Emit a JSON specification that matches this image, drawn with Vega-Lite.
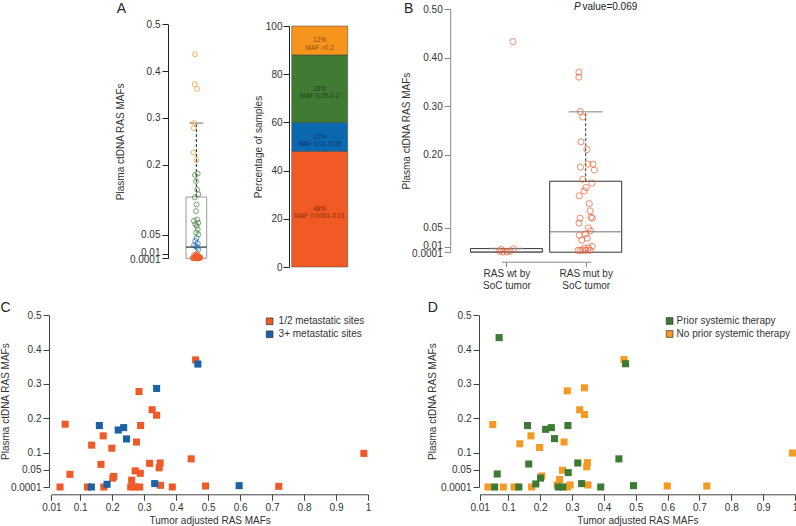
{
"$schema": "https://vega.github.io/schema/vega-lite/v6.json",
"padding": {"left": 0, "top": 2, "right": 0, "bottom": 0},
"columns": 4,
"align": "each",
"bounds": "flush",
"spacing": {"row": 48, "column": 10},
"resolve": {"scale": {"x": "independent", "y": "independent", "color": "independent", "fill": "independent"}, "legend": {"color": "independent", "fill": "independent"}},
"config": {
  "font": "Liberation Sans",
  "view": {"stroke": null},
  "axis": {"labelFont": "Liberation Sans", "labelFontSize": 10, "labelColor": "#333", "titleFont": "Liberation Sans", "titleFontSize": 10, "titleFontWeight": "normal", "titleColor": "#333", "tickSize": 6, "tickColor": "#444", "domainColor": "#444", "grid": false, "labelPadding": 2, "labelFlush": false, "labelOverlap": false, "tickCount": 30},
  "legend": {"labelFont": "Liberation Sans", "labelFontSize": 10, "labelColor": "#333"},
  "title": {"font": "Liberation Sans", "fontSize": 14, "fontWeight": "normal", "color": "#222"},
  "text": {"font": "Liberation Sans"}
},
"concat": [
  {"width": 108.7, "height": 10, "data": {"values": [{"k": 1}]}, "mark": {"type": "point", "opacity": 0}, "encoding": {}},
  {
    "width": 110.3, "height": 250,
    "title": {"text": "A", "anchor": "start", "frame": "group", "offset": 0, "dx": -46.7, "dy": 14, "align": "center", "baseline": "middle"},
    "layer": [
      {"data": {"values": [{"q1": 0.0001, "med": 0.024, "q3": 0.131, "whi": 0.289}]},
       "mark": {"type": "bar", "orient": "vertical", "width": 20.7, "fillOpacity": 0, "stroke": "#999", "strokeWidth": 1},
       "encoding": {
         "x": {"datum": 0.5, "type": "quantitative", "scale": {"domain": [0, 1], "range": [18, 38.7], "nice": false, "zero": false}, "axis": null},
         "y": {"field": "q1", "type": "quantitative", "scale": {"domain": [0.0001, 0.5], "range": [249.3, 15.3], "nice": false, "zero": false},
               "axis": {"values": [0.0001, 0.01, 0.05, 0.2, 0.3, 0.4, 0.5], "tickCount": 30, "format": "~g", "labelOverlap": false, "title": "Plasma ctDNA RAS MAFs", "titleX": -47.3, "titleBaseline": "middle", "domainColor": "#222", "tickColor": "#222",
                        "labelOffset": {"condition": [{"test": "datum.value == 0.01", "value": -1.5}, {"test": "datum.value == 0.0001", "value": 1.5}], "value": 0}}},
         "y2": {"field": "q3"}}},
      {"data": {"values": [{"q1": 0.0001, "med": 0.024, "q3": 0.131, "whi": 0.289}]},
       "mark": {"type": "rule", "strokeDash": [3, 2], "color": "#222", "strokeWidth": 1},
       "encoding": {"x": {"datum": 0.5, "type": "quantitative"}, "y": {"field": "q3", "type": "quantitative"}, "y2": {"field": "whi"}}},
      {"data": {"values": [{"q1": 0.0001, "med": 0.024, "q3": 0.131, "whi": 0.289}]},
       "mark": {"type": "tick", "orient": "horizontal", "size": 14, "thickness": 1, "color": "#333"},
       "encoding": {"x": {"datum": 0.5, "type": "quantitative"}, "y": {"field": "whi", "type": "quantitative"}}},
      {"data": {"values": [{"q1": 0.0001, "med": 0.024, "q3": 0.131, "whi": 0.289}]},
       "mark": {"type": "tick", "orient": "horizontal", "size": 20.7, "thickness": 1.5, "color": "#111"},
       "encoding": {"x": {"datum": 0.5, "type": "quantitative"}, "y": {"field": "med", "type": "quantitative"}}},
      {"data": {"values": [
        {"v": 0.436, "j": 0.37, "g": "o"}, {"v": 0.372, "j": 0.35, "g": "o"}, {"v": 0.362, "j": 0.57, "g": "o"}, {"v": 0.289, "j": 0.29, "g": "o"}, {"v": 0.278, "j": 0.26, "g": "o"}, {"v": 0.226, "j": 0.24, "g": "o"}, {"v": 0.21, "j": 0.5, "g": "o"},
        {"v": 0.178, "j": 0.37, "g": "gr"}, {"v": 0.181, "j": 0.63, "g": "gr"}, {"v": 0.165, "j": 0.47, "g": "gr"}, {"v": 0.147, "j": 0.58, "g": "gr"}, {"v": 0.137, "j": 0.68, "g": "gr"}, {"v": 0.13, "j": 0.35, "g": "gr"}, {"v": 0.115, "j": 0.52, "g": "gr"}, {"v": 0.101, "j": 0.47, "g": "gr"}, {"v": 0.083, "j": 0.58, "g": "gr"}, {"v": 0.076, "j": 0.68, "g": "gr"}, {"v": 0.073, "j": 0.39, "g": "gr"}, {"v": 0.069, "j": 0.53, "g": "gr"}, {"v": 0.062, "j": 0.63, "g": "gr"}, {"v": 0.055, "j": 0.47, "g": "gr"}, {"v": 0.08, "j": 0.27, "g": "gr"}, {"v": 0.051, "j": 0.68, "g": "gr"},
        {"v": 0.043, "j": 0.52, "g": "b"}, {"v": 0.037, "j": 0.4, "g": "b"}, {"v": 0.032, "j": 0.63, "g": "b"}, {"v": 0.028, "j": 0.27, "g": "b"}, {"v": 0.023, "j": 0.56, "g": "b"}, {"v": 0.019, "j": 0.68, "g": "b"}, {"v": 0.026, "j": 0.47, "g": "b"},
        {"v": 0.0001, "j": 0.2, "g": "r"}, {"v": 0.0005, "j": 0.3, "g": "r"}, {"v": 0.001, "j": 0.4, "g": "r"}, {"v": 0.002, "j": 0.5, "g": "r"}, {"v": 0.0001, "j": 0.6, "g": "r"}, {"v": 0.003, "j": 0.7, "g": "r"}, {"v": 0.001, "j": 0.8, "g": "r"},
        {"v": 0.0005, "j": 0.25, "g": "r"}, {"v": 0.004, "j": 0.35, "g": "r"}, {"v": 0.002, "j": 0.45, "g": "r"}, {"v": 0.006, "j": 0.55, "g": "r"}, {"v": 0.001, "j": 0.65, "g": "r"}, {"v": 0.0001, "j": 0.75, "g": "r"}, {"v": 0.003, "j": 0.85, "g": "r"},
        {"v": 0.007, "j": 0.3, "g": "r"}, {"v": 0.005, "j": 0.4, "g": "r"}, {"v": 0.0001, "j": 0.5, "g": "r"}, {"v": 0.008, "j": 0.6, "g": "r"}, {"v": 0.002, "j": 0.7, "g": "r"}, {"v": 0.001, "j": 0.15, "g": "r"}, {"v": 0.004, "j": 0.62, "g": "r"},
        {"v": 0.0001, "j": 0.38, "g": "r"}, {"v": 0.006, "j": 0.48, "g": "r"}, {"v": 0.003, "j": 0.58, "g": "r"}, {"v": 0.0005, "j": 0.68, "g": "r"}, {"v": 0.002, "j": 0.78, "g": "r"}, {"v": 0.009, "j": 0.52, "g": "r"}, {"v": 0.001, "j": 0.88, "g": "r"}
       ]},
       "mark": {"type": "point", "shape": "circle", "filled": false, "size": 24, "strokeWidth": 1},
       "encoding": {"x": {"field": "j", "type": "quantitative"}, "y": {"field": "v", "type": "quantitative"},
         "color": {"field": "g", "type": "nominal", "scale": {"domain": ["r", "b", "gr", "o"], "range": ["#EF5B2B", "#1466AC", "#3E7B35", "#F6931F"]}, "legend": null}}}
    ]
  },
  {
    "width": 180, "height": 258,
    "data": {"values": [
      {"seg": "r", "pct": 48, "o": 1, "lbl": "48%\nMAF 0.0001-0.01"},
      {"seg": "b", "pct": 12, "o": 2, "lbl": "12%\nMAF 0.01-0.05"},
      {"seg": "g", "pct": 28, "o": 3, "lbl": "28%\nMAF 0.05-0.2"},
      {"seg": "o", "pct": 12, "o": 4, "lbl": "12%\nMAF >0.2"}
    ]},
    "transform": [{"stack": "pct", "groupby": [], "sort": [{"field": "o", "order": "ascending"}], "as": ["lo", "hi"]}],
    "layer": [
      {"mark": {"type": "rect", "stroke": "#444", "strokeWidth": 0.5},
       "encoding": {
         "x": {"datum": 0, "type": "quantitative", "scale": {"domain": [0, 1], "range": [2.7, 58.7], "nice": false, "zero": false}, "axis": null},
         "x2": {"datum": 1},
         "y": {"field": "lo", "type": "quantitative", "scale": {"domain": [0, 100], "range": [258, 17], "nice": false, "zero": false},
               "axis": {"values": [0, 20, 40, 60, 80, 100], "tickCount": 30, "labelOverlap": false, "title": "Percentage of samples", "titleX": -30.8, "titleBaseline": "middle", "labelPadding": 1, "domainColor": "#222", "tickColor": "#222"}},
         "y2": {"field": "hi"},
         "fill": {"field": "seg", "type": "nominal", "scale": {"domain": ["r", "b", "g", "o"], "range": ["#F15A24", "#0B69B0", "#3F7B33", "#F7941D"]}, "legend": null}}},
      {"transform": [{"fold": ["lo", "hi"], "as": ["k", "val"]}],
       "mark": {"type": "text", "fontSize": 6.5, "lineBreak": "\n", "lineHeight": 7.3, "align": "center", "baseline": "middle"},
       "encoding": {
         "x": {"datum": 0.5, "type": "quantitative"},
         "y": {"aggregate": "mean", "field": "val", "type": "quantitative"},
         "text": {"field": "lbl"},
         "color": {"field": "seg", "type": "nominal", "scale": {"domain": ["r", "b", "g", "o"], "range": ["#8B2A0E", "#0A3566", "#1F4219", "#8A4D0B"]}, "legend": null}}}
    ]
  },
  {
    "width": 200, "height": 252.7,
    "title": {"text": "B", "anchor": "start", "frame": "group", "offset": 0, "dx": -70.3, "dy": 21.4, "align": "center", "baseline": "middle"},
    "layer": [
      {"data": {"values": [{"grp": 1, "q1": 0.0001, "med": 0.0008, "q3": 0.0075, "whi": 0.0075}, {"grp": 2, "q1": 0.0001, "med": 0.042, "q3": 0.146, "whi": 0.289}]},
       "mark": {"type": "bar", "orient": "vertical", "width": 72, "fillOpacity": 0, "stroke": "#333", "strokeWidth": 1},
       "encoding": {
         "x": {"field": "grp", "type": "quantitative", "scale": {"domain": [1, 2], "range": [22.4, 111.7], "nice": false, "zero": false},
               "axis": {"values": [1, 2], "tickCount": 30, "title": null, "tickSize": 5, "domainColor": "#888", "tickColor": "#888", "labelPadding": 2, "labelLineHeight": 12, "labelOverlap": false,
                        "labelExpr": "datum.value == 1 ? ['RAS wt by', 'SoC tumor'] : ['RAS mut by', 'SoC tumor']"}},
         "y": {"field": "q1", "type": "quantitative", "scale": {"domain": [0.0001, 0.5], "range": [243.2, 0], "nice": false, "zero": false},
               "axis": {"values": [0.0001, 0.01, 0.05, 0.2, 0.3, 0.4, 0.5], "tickCount": 30, "offset": 28.8, "labelOverlap": false, "title": "Plasma ctDNA RAS MAFs", "titleX": -43.5, "titleBaseline": "middle", "domainColor": "#888", "tickColor": "#888",
                        "labelExpr": "datum.value >= 0.2 ? format(datum.value, '.2f') : format(datum.value, '~g')",
                        "labelOffset": {"condition": [{"test": "datum.value == 0.01", "value": -1.5}, {"test": "datum.value == 0.0001", "value": 1.5}], "value": 0}}},
         "y2": {"field": "q3"}}},
      {"data": {"values": [{"grp": 2, "q3": 0.146, "whi": 0.289}]},
       "mark": {"type": "rule", "strokeDash": [3, 2], "color": "#333", "strokeWidth": 1},
       "encoding": {"x": {"field": "grp", "type": "quantitative"}, "y": {"field": "q3", "type": "quantitative"}, "y2": {"field": "whi"}}},
      {"data": {"values": [{"grp": 1, "whi": 0.0075}, {"grp": 2, "whi": 0.289}]},
       "mark": {"type": "tick", "orient": "horizontal", "size": 34, "thickness": 1.5, "color": "#888"},
       "encoding": {"x": {"field": "grp", "type": "quantitative"}, "y": {"field": "whi", "type": "quantitative"}}},
      {"data": {"values": [{"grp": 1, "med": 0.0008}, {"grp": 2, "med": 0.042}]},
       "mark": {"type": "tick", "orient": "horizontal", "size": 72, "thickness": 1.5, "color": "#777"},
       "encoding": {"x": {"field": "grp", "type": "quantitative"}, "y": {"field": "med", "type": "quantitative"}}},
      {"data": {"values": [
        {"x": 1.082, "v": 0.433}, {"x": 0.914, "v": 0.002}, {"x": 0.933, "v": 0.006}, {"x": 0.958, "v": 0.0005}, {"x": 1.008, "v": 0.0005}, {"x": 1.045, "v": 0.002}, {"x": 1.09, "v": 0.007},
        {"x": 1.914, "v": 0.37}, {"x": 1.914, "v": 0.36}, {"x": 1.932, "v": 0.289}, {"x": 1.963, "v": 0.278}, {"x": 1.94, "v": 0.227}, {"x": 2.015, "v": 0.211}, {"x": 2.03, "v": 0.181},
        {"x": 2.09, "v": 0.181}, {"x": 1.933, "v": 0.175}, {"x": 2.109, "v": 0.169}, {"x": 1.963, "v": 0.15}, {"x": 2.079, "v": 0.142}, {"x": 2.004, "v": 0.133}, {"x": 1.981, "v": 0.126},
        {"x": 1.918, "v": 0.116}, {"x": 2.045, "v": 0.1}, {"x": 2.056, "v": 0.085}, {"x": 2.067, "v": 0.072}, {"x": 2.082, "v": 0.07}, {"x": 1.929, "v": 0.07}, {"x": 1.916, "v": 0.06},
        {"x": 2.034, "v": 0.05}, {"x": 2.06, "v": 0.044}, {"x": 1.918, "v": 0.035}, {"x": 2.019, "v": 0.029}, {"x": 1.951, "v": 0.025}, {"x": 1.996, "v": 0.037}, {"x": 2.082, "v": 0.012},
        {"x": 1.904, "v": 0.004}, {"x": 1.93, "v": 0.004}, {"x": 1.96, "v": 0.004}, {"x": 2.005, "v": 0.004}, {"x": 2.034, "v": 0.009}, {"x": 2.056, "v": 0.004}, {"x": 1.985, "v": 0.008}
       ]},
       "mark": {"type": "point", "shape": "circle", "filled": false, "size": 38, "strokeWidth": 1, "color": "#EF5B2B"},
       "encoding": {"x": {"field": "x", "type": "quantitative"}, "y": {"field": "v", "type": "quantitative"}}},
      {"data": {"values": [{"t": "P"}]},
       "mark": {"type": "text", "fontSize": 10, "fontStyle": "italic", "align": "left", "baseline": "middle", "color": "#222"},
       "encoding": {"x": {"datum": 1.854, "type": "quantitative"}, "y": {"datum": 0.504, "type": "quantitative"}, "text": {"field": "t"}}},
      {"data": {"values": [{"t": "value=0.069"}]},
       "mark": {"type": "text", "fontSize": 10, "align": "left", "baseline": "middle", "color": "#222"},
       "encoding": {"x": {"datum": 1.96, "type": "quantitative"}, "y": {"datum": 0.504, "type": "quantitative"}, "text": {"field": "t"}}}
    ]
  },
  {
    "width": 108.7, "height": 179.3,
    "layer": [
      {"data": {"values": [
        {"tx": 0.461, "py": 0.37, "site": "1/2 metastatic sites"}, {"tx": 0.284, "py": 0.278, "site": "1/2 metastatic sites"}, {"tx": 0.325, "py": 0.225, "site": "1/2 metastatic sites"}, {"tx": 0.339, "py": 0.209, "site": "1/2 metastatic sites"},
        {"tx": 0.053, "py": 0.183, "site": "1/2 metastatic sites"}, {"tx": 0.289, "py": 0.179, "site": "1/2 metastatic sites"}, {"tx": 0.172, "py": 0.149, "site": "1/2 metastatic sites"}, {"tx": 0.136, "py": 0.122, "site": "1/2 metastatic sites"},
        {"tx": 0.276, "py": 0.131, "site": "1/2 metastatic sites"}, {"tx": 0.199, "py": 0.113, "site": "1/2 metastatic sites"}, {"tx": 0.987, "py": 0.098, "site": "1/2 metastatic sites"}, {"tx": 0.447, "py": 0.082, "site": "1/2 metastatic sites"},
        {"tx": 0.165, "py": 0.066, "site": "1/2 metastatic sites"}, {"tx": 0.317, "py": 0.069, "site": "1/2 metastatic sites"}, {"tx": 0.35, "py": 0.07, "site": "1/2 metastatic sites"}, {"tx": 0.347, "py": 0.056, "site": "1/2 metastatic sites"},
        {"tx": 0.068, "py": 0.037, "site": "1/2 metastatic sites"}, {"tx": 0.272, "py": 0.047, "site": "1/2 metastatic sites"}, {"tx": 0.288, "py": 0.04, "site": "1/2 metastatic sites"}, {"tx": 0.205, "py": 0.031, "site": "1/2 metastatic sites"},
        {"tx": 0.202, "py": 0.026, "site": "1/2 metastatic sites"}, {"tx": 0.261, "py": 0.02, "site": "1/2 metastatic sites"}, {"tx": 0.037, "py": 0.0001, "site": "1/2 metastatic sites"}, {"tx": 0.123, "py": 0.0001, "site": "1/2 metastatic sites"},
        {"tx": 0.174, "py": 0.0001, "site": "1/2 metastatic sites"}, {"tx": 0.258, "py": 0.0001, "site": "1/2 metastatic sites"}, {"tx": 0.27, "py": 0.0001, "site": "1/2 metastatic sites"}, {"tx": 0.286, "py": 0.0001, "site": "1/2 metastatic sites"},
        {"tx": 0.351, "py": 0.005, "site": "1/2 metastatic sites"}, {"tx": 0.388, "py": 0.0001, "site": "1/2 metastatic sites"}, {"tx": 0.492, "py": 0.003, "site": "1/2 metastatic sites"}, {"tx": 0.721, "py": 0.002, "site": "1/2 metastatic sites"},
        {"tx": 0.468, "py": 0.358, "site": "3+ metastatic sites"}, {"tx": 0.339, "py": 0.287, "site": "3+ metastatic sites"}, {"tx": 0.16, "py": 0.179, "site": "3+ metastatic sites"}, {"tx": 0.219, "py": 0.166, "site": "3+ metastatic sites"},
        {"tx": 0.236, "py": 0.173, "site": "3+ metastatic sites"}, {"tx": 0.245, "py": 0.14, "site": "3+ metastatic sites"}, {"tx": 0.135, "py": 0.0001, "site": "3+ metastatic sites"}, {"tx": 0.184, "py": 0.008, "site": "3+ metastatic sites"},
        {"tx": 0.333, "py": 0.01, "site": "3+ metastatic sites"}, {"tx": 0.597, "py": 0.004, "site": "3+ metastatic sites"}
       ]},
       "mark": {"type": "square", "size": 50, "opacity": 1},
       "encoding": {
         "x": {"field": "tx", "type": "quantitative", "scale": {"domain": [0.01, 1], "range": [2.4, 319], "nice": false, "zero": false},
               "axis": {"values": [0.01, 0.1, 0.2, 0.3, 0.4, 0.5, 0.6, 0.7, 0.8, 0.9, 1], "tickCount": 30, "format": "~g", "labelOverlap": false, "title": "Tumor adjusted RAS MAFs", "titlePadding": 3}},
         "y": {"field": "py", "type": "quantitative", "scale": {"domain": [0.0001, 0.5], "range": [172, 0.3], "nice": false, "zero": false},
               "axis": {"values": [0.0001, 0.05, 0.1, 0.2, 0.3, 0.4, 0.5], "tickCount": 30, "format": "~g", "labelOverlap": false, "title": "Plasma ctDNA RAS MAFs", "titleX": -43.5, "titleBaseline": "middle"}},
         "color": {"field": "site", "type": "nominal", "scale": {"domain": ["1/2 metastatic sites", "3+ metastatic sites"], "range": ["#EE5A28", "#1B62A5"]},
                   "legend": {"orient": "none", "legendX": 215.6, "legendY": 1.3, "title": null, "symbolType": "square", "symbolSize": 45, "symbolStrokeColor": "#333", "symbolStrokeWidth": 0.7, "labelOffset": 4, "rowPadding": 3, "padding": 0}}}},
      {"data": {"values": [{"t": "C"}]},
       "mark": {"type": "text", "fontSize": 14, "align": "center", "baseline": "middle", "color": "#222"},
       "encoding": {"x": {"datum": -0.133, "type": "quantitative"}, "y": {"datum": 0.522, "type": "quantitative"}, "text": {"field": "t"}}}
    ]
  },
  {"width": 110.3, "height": 10, "data": {"values": [{"k": 1}]}, "mark": {"type": "point", "opacity": 0}, "encoding": {}},
  {"width": 180, "height": 10, "data": {"values": [{"k": 1}]}, "mark": {"type": "point", "opacity": 0}, "encoding": {}},
  {
    "width": 316, "height": 179.3,
    "layer": [
      {"data": {"values": [
        {"tx": 0.463, "py": 0.371, "th": "No prior systemic therapy"}, {"tx": 0.339, "py": 0.289, "th": "No prior systemic therapy"}, {"tx": 0.285, "py": 0.28, "th": "No prior systemic therapy"}, {"tx": 0.324, "py": 0.225, "th": "No prior systemic therapy"},
        {"tx": 0.339, "py": 0.211, "th": "No prior systemic therapy"}, {"tx": 0.051, "py": 0.182, "th": "No prior systemic therapy"}, {"tx": 0.171, "py": 0.149, "th": "No prior systemic therapy"}, {"tx": 0.136, "py": 0.126, "th": "No prior systemic therapy"},
        {"tx": 0.275, "py": 0.131, "th": "No prior systemic therapy"}, {"tx": 0.198, "py": 0.115, "th": "No prior systemic therapy"}, {"tx": 0.992, "py": 0.099, "th": "No prior systemic therapy"}, {"tx": 0.348, "py": 0.071, "th": "No prior systemic therapy"},
        {"tx": 0.346, "py": 0.059, "th": "No prior systemic therapy"}, {"tx": 0.27, "py": 0.049, "th": "No prior systemic therapy"}, {"tx": 0.205, "py": 0.032, "th": "No prior systemic therapy"}, {"tx": 0.261, "py": 0.022, "th": "No prior systemic therapy"},
        {"tx": 0.036, "py": 0.0001, "th": "No prior systemic therapy"}, {"tx": 0.084, "py": 0.0001, "th": "No prior systemic therapy"}, {"tx": 0.118, "py": 0.0001, "th": "No prior systemic therapy"}, {"tx": 0.173, "py": 0.0001, "th": "No prior systemic therapy"},
        {"tx": 0.253, "py": 0.006, "th": "No prior systemic therapy"}, {"tx": 0.285, "py": 0.0001, "th": "No prior systemic therapy"}, {"tx": 0.294, "py": 0.006, "th": "No prior systemic therapy"}, {"tx": 0.35, "py": 0.006, "th": "No prior systemic therapy"},
        {"tx": 0.599, "py": 0.003, "th": "No prior systemic therapy"}, {"tx": 0.723, "py": 0.003, "th": "No prior systemic therapy"},
        {"tx": 0.071, "py": 0.435, "th": "Prior systemic therapy"}, {"tx": 0.468, "py": 0.359, "th": "Prior systemic therapy"}, {"tx": 0.16, "py": 0.179, "th": "Prior systemic therapy"}, {"tx": 0.217, "py": 0.168, "th": "Prior systemic therapy"},
        {"tx": 0.235, "py": 0.173, "th": "Prior systemic therapy"}, {"tx": 0.287, "py": 0.179, "th": "Prior systemic therapy"}, {"tx": 0.245, "py": 0.141, "th": "Prior systemic therapy"}, {"tx": 0.447, "py": 0.082, "th": "Prior systemic therapy"},
        {"tx": 0.164, "py": 0.067, "th": "Prior systemic therapy"}, {"tx": 0.318, "py": 0.07, "th": "Prior systemic therapy"}, {"tx": 0.065, "py": 0.038, "th": "Prior systemic therapy"}, {"tx": 0.288, "py": 0.042, "th": "Prior systemic therapy"},
        {"tx": 0.201, "py": 0.026, "th": "Prior systemic therapy"}, {"tx": 0.186, "py": 0.009, "th": "Prior systemic therapy"}, {"tx": 0.33, "py": 0.01, "th": "Prior systemic therapy"}, {"tx": 0.057, "py": 0.0001, "th": "Prior systemic therapy"},
        {"tx": 0.133, "py": 0.0001, "th": "Prior systemic therapy"}, {"tx": 0.257, "py": 0.0001, "th": "Prior systemic therapy"}, {"tx": 0.271, "py": 0.0001, "th": "Prior systemic therapy"}, {"tx": 0.39, "py": 0.0001, "th": "Prior systemic therapy"},
        {"tx": 0.493, "py": 0.004, "th": "Prior systemic therapy"}
       ]},
       "mark": {"type": "square", "size": 50, "opacity": 1},
       "encoding": {
         "x": {"field": "tx", "type": "quantitative", "scale": {"domain": [0.01, 1], "range": [0.7, 316], "nice": false, "zero": false},
               "axis": {"values": [0.01, 0.1, 0.2, 0.3, 0.4, 0.5, 0.6, 0.7, 0.8, 0.9, 1], "tickCount": 30, "format": "~g", "labelOverlap": false, "title": "Tumor adjusted RAS MAFs", "titlePadding": 3}},
         "y": {"field": "py", "type": "quantitative", "scale": {"domain": [0.0001, 0.5], "range": [172, 0.3], "nice": false, "zero": false},
               "axis": {"values": [0.0001, 0.05, 0.1, 0.2, 0.3, 0.4, 0.5], "tickCount": 30, "format": "~g", "labelOverlap": false, "title": "Plasma ctDNA RAS MAFs", "titleX": -46.6, "titleBaseline": "middle"}},
         "color": {"field": "th", "type": "nominal", "scale": {"domain": ["Prior systemic therapy", "No prior systemic therapy"], "range": ["#3D7B34", "#F59A23"]},
                   "legend": {"orient": "none", "legendX": 185.6, "legendY": 1, "title": null, "symbolType": "square", "symbolSize": 45, "symbolStrokeColor": "#333", "symbolStrokeWidth": 0.7, "labelOffset": 2, "rowPadding": 3, "padding": 0}}}},
      {"data": {"values": [{"t": "D"}]},
       "mark": {"type": "text", "fontSize": 14, "align": "center", "baseline": "middle", "color": "#222"},
       "encoding": {"x": {"datum": -0.1376, "type": "quantitative"}, "y": {"datum": 0.522, "type": "quantitative"}, "text": {"field": "t"}}}
    ]
  }
]
}
